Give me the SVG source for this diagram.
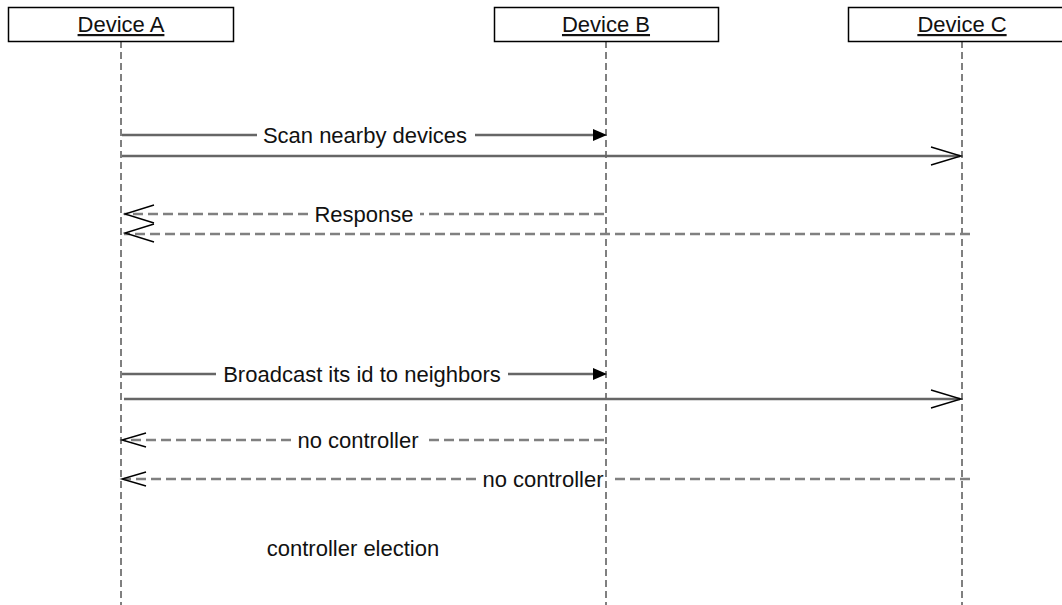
<svg xmlns="http://www.w3.org/2000/svg" width="1062" height="605" viewBox="0 0 1062 605">
  <style>
    .box { fill: #ffffff; stroke: #000000; stroke-width: 1.5; }
    .title { font-family: "Liberation Sans", Arial, sans-serif; font-size: 22px; fill: #111111; text-anchor: middle; text-decoration: underline; }
    .life { stroke: #000000; stroke-width: 1; stroke-dasharray: 7 4; fill: none; }
    .sync { stroke: #666666; stroke-width: 2.5; fill: none; }
    .reply { stroke: #808080; stroke-width: 2.5; stroke-dasharray: 10 5; fill: none; }
    .head { stroke: #000000; stroke-width: 1.4; fill: none; }
    .fhead { fill: #000000; stroke: none; }
    .lbl { font-family: "Liberation Sans", Arial, sans-serif; font-size: 22px; fill: #111111; text-anchor: middle; }
  </style>
  <rect x="0" y="0" width="1062" height="605" fill="#ffffff"/>

  <!-- participants with their lifelines -->
  <g id="device-a">
    <line class="life" x1="121" y1="41" x2="121" y2="605"/>
    <rect class="box" x="8.5" y="7.5" width="225" height="34"/>
    <text class="title" x="121" y="32">Device A</text>
  </g>
  <g id="device-b">
    <line class="life" x1="606" y1="41" x2="606" y2="605"/>
    <rect class="box" x="494.5" y="7.5" width="224" height="34"/>
    <text class="title" x="606" y="32">Device B</text>
  </g>
  <g id="device-c">
    <line class="life" x1="962" y1="41" x2="962" y2="605"/>
    <rect class="box" x="848.5" y="7.5" width="228" height="34"/>
    <text class="title" x="962" y="32">Device C</text>
  </g>

  <!-- messages -->
  <g id="connectors">
    <!-- scan: A to B -->
    <line class="sync" x1="122" y1="135" x2="257" y2="135"/>
    <line class="sync" x1="475" y1="135" x2="596" y2="135"/>
    <polygon class="fhead" points="607,135 593,129 593,141"/>
    <text class="lbl" x="365" y="143">Scan nearby devices</text>
    <!-- scan: A to C -->
    <line class="sync" x1="122" y1="156" x2="960" y2="156"/>
    <polyline class="head" points="931,147 961,156 931,165"/>

    <!-- response: B to A -->
    <line class="reply" x1="604" y1="214" x2="420" y2="214"/>
    <line class="reply" x1="308" y1="214" x2="124" y2="214"/>
    <polyline class="head" points="154,205 125,214 154,223"/>
    <text class="lbl" x="364" y="222">Response</text>
    <!-- response: C to A -->
    <line class="reply" x1="970" y1="234" x2="124" y2="234"/>
    <polyline class="head" points="154,224 125,233 154,242"/>

    <!-- broadcast: A to B -->
    <line class="sync" x1="122" y1="374" x2="216" y2="374"/>
    <line class="sync" x1="508" y1="374" x2="596" y2="374"/>
    <polygon class="fhead" points="607,374 593,368 593,380"/>
    <text class="lbl" x="362" y="382">Broadcast its id to neighbors</text>
    <!-- broadcast: A to C -->
    <line class="sync" x1="124" y1="399" x2="960" y2="399"/>
    <polyline class="head" points="931,390 961,399 931,408"/>

    <!-- no controller: B to A -->
    <line class="reply" x1="604" y1="440" x2="426" y2="440"/>
    <line class="reply" x1="291" y1="440" x2="124" y2="440"/>
    <polyline class="head" points="146,433 122,440 146,447"/>
    <text class="lbl" x="358" y="448">no controller</text>
    <!-- no controller: C to A -->
    <line class="reply" x1="970" y1="479" x2="610" y2="479"/>
    <line class="reply" x1="476" y1="479" x2="124" y2="479"/>
    <polyline class="head" points="146,472 122,479 146,486"/>
    <text class="lbl" x="543" y="487">no controller</text>
  </g>

  <!-- note -->
  <text class="lbl" x="353" y="556">controller election</text>
</svg>
